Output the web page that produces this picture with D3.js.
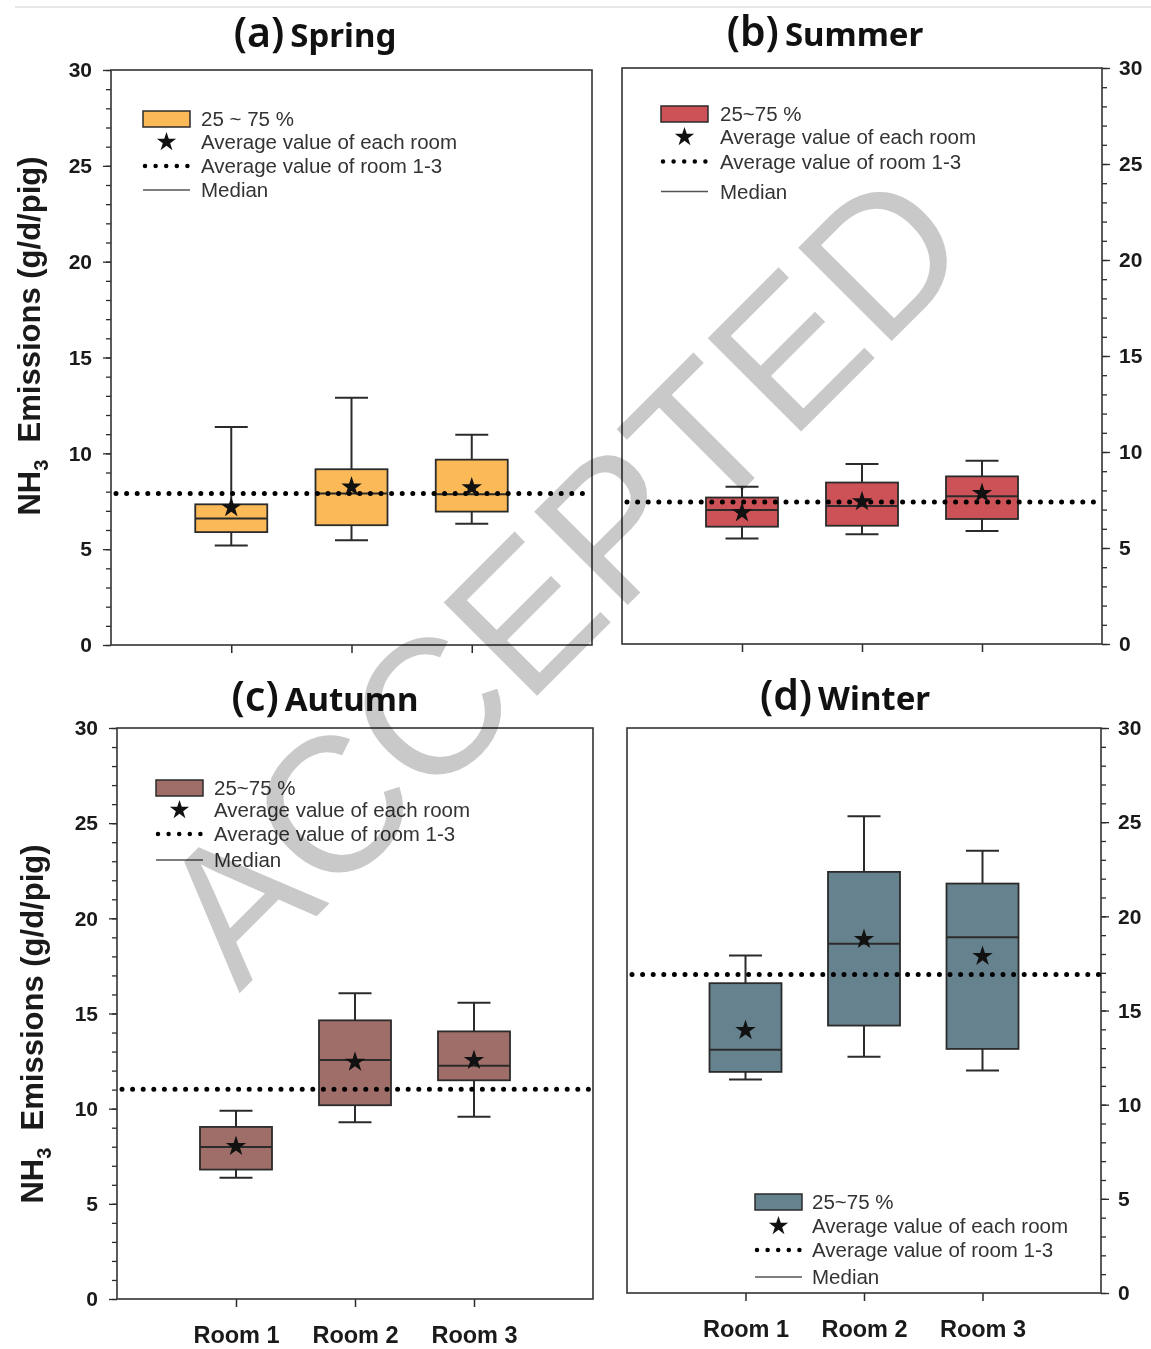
<!DOCTYPE html>
<html>
<head>
<meta charset="utf-8">
<script src="https://cdn.jsdelivr.net/npm/d3@7"></script>
<style>
  html, body { margin: 0; padding: 0; background: #fff; }
  svg { display: block; }
</style>
</head>
<body>
<svg id="chart" width="1151" height="1349"></svg>
<script>
// ---- data: NH3 emissions (g/d/pig), one row per season, one value per room ----
const rooms = ["Room 1", "Room 2", "Room 3"];
const seasons = ["Spring", "Summer", "Autumn", "Winter"];
const panelLetters = ["(a)", "(b)", "(c)", "(d)"];
const boxLegendLabels = ["25 ~ 75 %", "25~75 %", "25~75 %", "25~75 %"];
const legendLabels = ["Average value of each room", "Average value of room 1-3", "Median"];

const whiskerMin = [[5.19, 5.47, 6.32], [5.50, 5.71, 5.88], [6.37, 9.28, 9.58], [11.33, 12.55, 11.82]];
const quartile1  = [[5.89, 6.25, 6.96], [6.11, 6.16, 6.51], [6.80, 10.18, 11.49], [11.74, 14.20, 12.96]];
const medians    = [[6.60, 7.90, 7.86], [6.98, 7.19, 7.70], [7.99, 12.56, 12.26], [12.92, 18.55, 18.89]];
const quartile3  = [[7.34, 9.17, 9.67], [7.63, 8.41, 8.73], [9.04, 14.64, 14.06], [16.45, 22.36, 21.74]];
const whiskerMax = [[11.37, 12.90, 10.97], [8.19, 9.37, 9.55], [9.89, 16.06, 15.57], [17.92, 25.32, 23.48]];
const roomMeans  = [[7.17, 8.25, 8.21], [6.84, 7.42, 7.85], [8.02, 12.45, 12.54], [13.95, 18.78, 17.88]];
const overallMeans = [7.90, 7.40, 11.02, 16.91];

const yMajorTicks = [0, 5, 10, 15, 20, 25, 30];
const yMinorTicks = d3.range(0, 31, 1);

const boxColors = ["#FBB957", "#CD5257", "#A06E69", "#66828E"];

// ---- layout of the four panels ----
const panels = [
  { x0: 111, x1: 592, y0: 70, y1: 645, side: "left",  roomLabels: false, yTitle: [30, 336],
    titleX: 315, titleY: 47, legend: { x: 143, y: 111, text: 201, rows: [119, 142, 166, 190] } },
  { x0: 622, x1: 1102, y0: 68, y1: 644, side: "right", roomLabels: false,
    titleX: 825, titleY: 46, legend: { x: 661, y: 106, text: 720, rows: [114, 137, 161.5, 191.5] } },
  { x0: 117, x1: 593, y0: 728, y1: 1299, side: "left", roomLabels: true, yTitle: [33, 1024],
    titleX: 325, titleY: 711, legend: { x: 156, y: 780, text: 214, rows: [788, 810, 834, 860] } },
  { x0: 627, x1: 1101, y0: 728, y1: 1293, side: "right", roomLabels: true,
    titleX: 845, titleY: 710, legend: { x: 755, y: 1194, text: 812, rows: [1202, 1226, 1250, 1277] } }
];

const svg = d3.select("#chart");
const ink = "#2b2b2b";
const star = d3.symbol().type(d3.symbolStar).size(130);
const legendStar = d3.symbol().type(d3.symbolStar).size(115);

// thin page rule across the top
svg.append("line")
  .attr("x1", 15).attr("x2", 1151).attr("y1", 7).attr("y2", 7)
  .attr("stroke", "#cfcfcf").attr("stroke-width", 1.2);

panels.forEach((p, i) => {
  const g = svg.append("g");
  const x = d3.scaleLinear().domain([0, 4]).range([p.x0, p.x1]);
  const y = d3.scaleLinear().domain([0, 30]).range([p.y1, p.y0]);

  // title: panel letter + season
  const title = g.append("text")
    .attr("x", p.titleX).attr("y", p.titleY)
    .attr("text-anchor", "middle")
    .attr("fill", "#111");
  title.append("tspan")
    .attr("font-family", "'Noto Sans', 'Open Sans', sans-serif")
    .attr("font-weight", 600).attr("font-size", 41)
    .text(panelLetters[i]);
  title.append("tspan")
    .attr("dx", 6)
    .attr("font-family", "'Noto Sans', 'Open Sans', sans-serif")
    .attr("font-weight", 700).attr("font-size", 33)
    .text(seasons[i]);

  // y axis: major ticks with labels plus unlabeled minor ticks
  const axisX = p.side === "left" ? p.x0 : p.x1;
  const makeAxis = p.side === "left" ? d3.axisLeft : d3.axisRight;
  const yMinor = g.append("g").attr("transform", `translate(${axisX},0)`)
    .call(makeAxis(y).tickValues(yMinorTicks).tickSize(5).tickFormat(""));
  const yMajor = g.append("g").attr("transform", `translate(${axisX},0)`)
    .call(makeAxis(y).tickValues(yMajorTicks).tickSize(8).tickPadding(p.side === "left" ? 11 : 9));
  [yMinor, yMajor].forEach(a => {
    a.select(".domain").remove();
    a.selectAll("line").attr("stroke", ink).attr("stroke-width", 1.3);
  });
  yMajor.selectAll("text")
    .attr("font-family", "'Liberation Sans', Arial, sans-serif")
    .attr("font-weight", 700).attr("font-size", 21).attr("fill", "#1a1a1a");

  // x axis: room ticks, labels on the lower row only
  const xAxis = g.append("g").attr("transform", `translate(0,${p.y1})`)
    .call(d3.axisBottom(x).tickValues([1, 2, 3]).tickSize(8).tickPadding(19)
      .tickFormat(d => p.roomLabels ? rooms[d - 1] : ""));
  xAxis.select(".domain").remove();
  xAxis.selectAll("line").attr("stroke", ink).attr("stroke-width", 1.5);
  xAxis.selectAll("text")
    .attr("font-family", "'Liberation Sans', Arial, sans-serif")
    .attr("font-weight", 700).attr("font-size", 23.5).attr("fill", "#1a1a1a");

  // frame
  g.append("rect")
    .attr("x", p.x0).attr("y", p.y0)
    .attr("width", p.x1 - p.x0).attr("height", p.y1 - p.y0)
    .attr("fill", "none").attr("stroke", "#333").attr("stroke-width", 1.6);

  // boxes
  const boxW = 72, capW = 33;
  rooms.forEach((r, j) => {
    const cx = x(j + 1);
    const bg = g.append("g");
    // whiskers
    bg.append("line").attr("x1", cx).attr("x2", cx)
      .attr("y1", y(whiskerMax[i][j])).attr("y2", y(quartile3[i][j]))
      .attr("stroke", ink).attr("stroke-width", 2);
    bg.append("line").attr("x1", cx).attr("x2", cx)
      .attr("y1", y(quartile1[i][j])).attr("y2", y(whiskerMin[i][j]))
      .attr("stroke", ink).attr("stroke-width", 2);
    [whiskerMax[i][j], whiskerMin[i][j]].forEach(v => {
      bg.append("line").attr("x1", cx - capW / 2).attr("x2", cx + capW / 2)
        .attr("y1", y(v)).attr("y2", y(v))
        .attr("stroke", ink).attr("stroke-width", 2);
    });
    // interquartile box
    bg.append("rect")
      .attr("x", cx - boxW / 2).attr("width", boxW)
      .attr("y", y(quartile3[i][j])).attr("height", y(quartile1[i][j]) - y(quartile3[i][j]))
      .attr("fill", boxColors[i]).attr("stroke", ink).attr("stroke-width", 1.8);
    // median
    bg.append("line").attr("x1", cx - boxW / 2).attr("x2", cx + boxW / 2)
      .attr("y1", y(medians[i][j])).attr("y2", y(medians[i][j]))
      .attr("stroke", ink).attr("stroke-width", 2);
  });

  // average of rooms 1-3
  g.append("line")
    .attr("x1", p.x0 + 5).attr("x2", p.x1 - 2)
    .attr("y1", y(overallMeans[i])).attr("y2", y(overallMeans[i]))
    .attr("stroke", "#000").attr("stroke-width", 5)
    .attr("stroke-linecap", "round").attr("stroke-dasharray", "0 10.6");

  // room averages
  rooms.forEach((r, j) => {
    g.append("path")
      .attr("d", star)
      .attr("transform", `translate(${x(j + 1)},${y(roomMeans[i][j])})`)
      .attr("fill", "#111");
  });

  // legend
  const L = p.legend, lw = 47, lh = 16, lcx = L.x + lw / 2;
  const lg = g.append("g");
  lg.append("rect").attr("x", L.x).attr("y", L.y).attr("width", lw).attr("height", lh)
    .attr("fill", boxColors[i]).attr("stroke", ink).attr("stroke-width", 1.5);
  lg.append("path").attr("d", legendStar)
    .attr("transform", `translate(${lcx},${L.rows[1]})`).attr("fill", "#111");
  lg.append("line").attr("x1", L.x + 2).attr("x2", L.x + lw)
    .attr("y1", L.rows[2]).attr("y2", L.rows[2])
    .attr("stroke", "#000").attr("stroke-width", 4.5)
    .attr("stroke-linecap", "round").attr("stroke-dasharray", "0 10.6");
  lg.append("line").attr("x1", L.x).attr("x2", L.x + lw)
    .attr("y1", L.rows[3]).attr("y2", L.rows[3])
    .attr("stroke", "#555").attr("stroke-width", 1.4);
  const labels = [boxLegendLabels[i]].concat(legendLabels);
  labels.forEach((t, k) => {
    lg.append("text")
      .attr("x", L.text).attr("y", L.rows[k]).attr("dy", "0.36em")
      .attr("font-family", "'Liberation Sans', Arial, sans-serif")
      .attr("font-size", 20.5).attr("fill", "#333")
      .text(t);
  });

  // y axis title on the left-hand panels
  if (p.yTitle) {
    const yt = g.append("text")
      .attr("transform", `translate(${p.yTitle[0] + 10},${p.yTitle[1]}) rotate(-90)`)
      .attr("text-anchor", "middle")
      .attr("font-family", "'Liberation Sans', Arial, sans-serif")
      .attr("font-weight", 700).attr("font-size", 31).attr("fill", "#1a1a1a");
    yt.append("tspan").text("NH");
    yt.append("tspan").attr("font-size", 20).attr("dy", 8).text("3");
    yt.append("tspan").attr("dy", -8).text("\u00A0\u00A0Emissions (g/d/pig)");
  }
});

// diagonal review stamp across the figure
svg.append("text")
  .attr("transform", "translate(560,575) rotate(-45)")
  .attr("text-anchor", "middle")
  .attr("dy", "0.36em")
  .attr("font-family", "'Liberation Sans', Arial, sans-serif")
  .attr("font-size", 192)
  .attr("fill", "#c9c9c9")
  .style("mix-blend-mode", "multiply")
  .text("ACCEPTED");
</script>
</body>
</html>
